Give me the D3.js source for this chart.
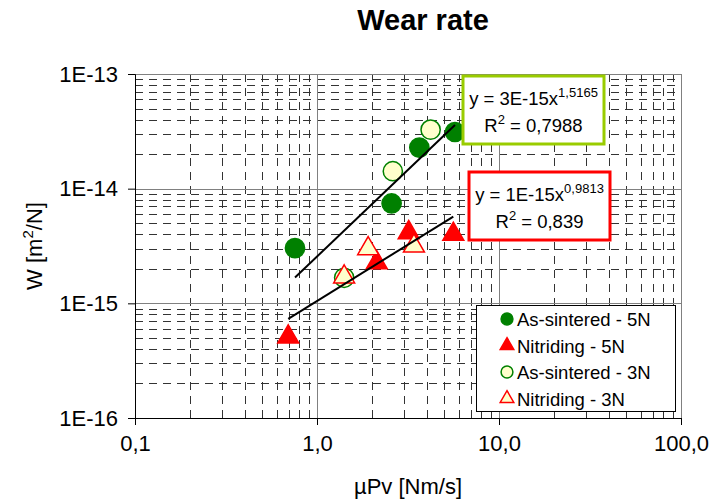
<!DOCTYPE html>
<html>
<head>
<meta charset="utf-8">
<script src="https://cdn.jsdelivr.net/npm/d3@7"></script>
<style>
  body { margin: 0; background: #fff; }
  svg text { font-family: "Liberation Sans", Arial, sans-serif; fill: #000; }
</style>
</head>
<body>
<div id="chart"></div>
<script>
// values
const asSintered5N_x = [0.757, 2.57, 3.65, 5.73];
const asSintered5N_y = [3.03e-15, 7.43e-15, 2.28e-14, 3.12e-14];
const nitriding5N_x = [0.695, 2.13, 3.19, 5.61];
const nitriding5N_y = [5.1e-16, 2.26e-15, 4.14e-15, 4.0e-15];
const asSintered3N_x = [1.41, 2.61, 4.21];
const asSintered3N_y = [1.67e-15, 1.42e-14, 3.27e-14];
const nitriding3N_x = [1.41, 1.91, 3.41];
const nitriding3N_y = [1.7e-15, 3.0e-15, 3.16e-15];

const xTickLabels = ['0,1', '1,0', '10,0', '100,0'];
const yTickLabels = ['1E-16', '1E-15', '1E-14', '1E-13'];
const legendLabels = ['As-sintered - 5N', 'Nitriding - 5N', 'As-sintered - 3N', 'Nitriding - 3N'];

const W = 711, H = 501;
const margin = { top: 74, right: 30, bottom: 83, left: 135 };
const width = W - margin.left - margin.right;
const height = H - margin.top - margin.bottom;

const svg = d3.select('#chart').append('svg')
    .attr('width', W)
    .attr('height', H);

const x = d3.scaleLog().domain([0.1, 100]).range([0, width]);
const y = d3.scaleLog().domain([1e-16, 1e-13]).range([height, 0]);

const g = svg.append('g')
    .attr('transform', `translate(${margin.left},${margin.top})`);

const isMajor = v => Math.abs(Math.log10(v) - Math.round(Math.log10(v))) < 1e-9;
const xMinor = x.ticks().filter(v => !isMajor(v));
const yMinor = y.ticks().filter(v => !isMajor(v));
const xMajor = x.ticks().filter(isMajor);
const yMajor = y.ticks().filter(isMajor);
const px = v => Math.round(v) + 0.5;

// minor gridlines (dashed)
g.append('g').selectAll('line').data(xMinor).join('line')
    .attr('x1', d => px(x(d))).attr('x2', d => px(x(d)))
    .attr('y1', 0).attr('y2', height)
    .attr('stroke', '#333').attr('stroke-dasharray', '8,6');
g.append('g').selectAll('line').data(yMinor).join('line')
    .attr('y1', d => px(y(d))).attr('y2', d => px(y(d)))
    .attr('x1', 0).attr('x2', width)
    .attr('stroke', '#333').attr('stroke-dasharray', '8,6');

// major gridlines
g.append('g').selectAll('line').data(xMajor).join('line')
    .attr('x1', d => px(x(d))).attr('x2', d => px(x(d)))
    .attr('y1', 0).attr('y2', height)
    .attr('stroke', '#808080');
g.append('g').selectAll('line').data(yMajor).join('line')
    .attr('y1', d => px(y(d))).attr('y2', d => px(y(d)))
    .attr('x1', 0).attr('x2', width)
    .attr('stroke', '#808080');

g.append('rect')
    .attr('x', 0.5).attr('y', 0.5)
    .attr('width', width).attr('height', height)
    .attr('fill', 'none').attr('stroke', '#808080');

// axes
const xAxis = g.append('g')
    .attr('transform', `translate(0,${height})`)
    .call(d3.axisBottom(x).tickValues(xMajor).tickSize(7).tickPadding(10)
        .tickFormat((d, i) => xTickLabels[i]));
const yAxis = g.append('g')
    .call(d3.axisLeft(y).tickValues(yMajor).tickSize(7).tickPadding(10)
        .tickFormat((d, i) => yTickLabels[i]));
[xAxis, yAxis].forEach(a => {
    a.select('.domain').attr('stroke', '#000');
    a.selectAll('.tick line').attr('stroke', '#000');
    a.selectAll('.tick text').attr('font-size', 22)
        .attr('font-family', '"Liberation Sans", Arial, sans-serif');
});

// power trendlines fitted in log space
function powerFit(xs, ys) {
    const lx = xs.map(Math.log10), ly = ys.map(Math.log10);
    const mx = d3.mean(lx), my = d3.mean(ly);
    const b = d3.sum(lx, (v, i) => (v - mx) * (ly[i] - my)) / d3.sum(lx, v => (v - mx) ** 2);
    const a = my - b * mx;
    const [x0, x1] = d3.extent(xs);
    return [x0, x1].map(v => [v, Math.pow(10, a + b * Math.log10(v))]);
}
const line = d3.line().x(d => x(d[0])).y(d => y(d[1]));
const fits = [
    powerFit(asSintered5N_x.concat(asSintered3N_x), asSintered5N_y.concat(asSintered3N_y)),
    powerFit(nitriding5N_x.concat(nitriding3N_x), nitriding5N_y.concat(nitriding3N_y))
];

// series
const series = [
    { xs: asSintered5N_x, ys: asSintered5N_y, shape: d3.symbolCircle, fill: '#008000', stroke: '#008000' },
    { xs: nitriding5N_x, ys: nitriding5N_y, shape: d3.symbolTriangle, fill: '#ff0000', stroke: '#ff0000' },
    { xs: asSintered3N_x, ys: asSintered3N_y, shape: d3.symbolCircle, fill: '#ffffcc', stroke: '#008000' },
    { xs: nitriding3N_x, ys: nitriding3N_y, shape: d3.symbolTriangle, fill: '#ffffcc', stroke: '#ff0000' }
];
const symSize = s => s === d3.symbolCircle ? 290 : 190;

[series[2], series[0], series[1], series[3]].forEach(s => {
    g.append('g').selectAll('path')
        .data(s.xs.map((v, i) => [v, s.ys[i]]))
        .join('path')
        .attr('transform', d => `translate(${x(d[0])},${y(d[1])})`)
        .attr('d', d3.symbol().type(s.shape).size(symSize(s.shape)))
        .attr('fill', s.fill)
        .attr('stroke', s.stroke)
        .attr('stroke-width', 1.5);
});

g.append('g').selectAll('path').data(fits).join('path')
    .attr('d', line)
    .attr('fill', 'none')
    .attr('stroke', '#000')
    .attr('stroke-width', 2);

// equation boxes
function eqBox(bx, by, bw, bh, color, coef, expo, r2) {
    const box = svg.append('g');
    box.append('rect')
        .attr('x', bx).attr('y', by).attr('width', bw).attr('height', bh)
        .attr('fill', '#fff').attr('stroke', color).attr('stroke-width', 3);
    const t1 = box.append('text')
        .attr('x', bx + bw / 2).attr('y', by + 29)
        .attr('text-anchor', 'middle').attr('font-size', 18.5);
    t1.append('tspan').text(`y = ${coef}x`);
    t1.append('tspan').attr('font-size', 13).attr('dy', -8).text(expo);
    const t2 = box.append('text')
        .attr('x', bx + bw / 2).attr('y', by + 56)
        .attr('text-anchor', 'middle').attr('font-size', 18.5);
    t2.append('tspan').text('R');
    t2.append('tspan').attr('font-size', 13).attr('dy', -8).text('2');
    t2.append('tspan').attr('dy', 8).text(` = ${r2}`);
}
eqBox(463, 76, 141, 68, '#99cc00', '3E-15', '1,5165', '0,7988');
eqBox(469, 172, 141, 68, '#ff0000', '1E-15', '0,9813', '0,839');

// legend
const lg = svg.append('g').attr('transform', 'translate(476,305)');
lg.append('rect')
    .attr('x', 0.5).attr('y', 0.5).attr('width', 199).attr('height', 106)
    .attr('fill', '#fff').attr('stroke', '#000');
const items = lg.selectAll('g.item').data(series).join('g')
    .attr('class', 'item')
    .attr('transform', (d, i) => `translate(0,${14 + i * 26.5})`);
items.append('path')
    .attr('transform', 'translate(31,0)')
    .attr('d', d => d3.symbol().type(d.shape).size(d.shape === d3.symbolCircle ? 110 : 80)())
    .attr('fill', d => d.fill)
    .attr('stroke', d => d.stroke)
    .attr('stroke-width', 1.5);
items.append('text')
    .attr('x', 41).attr('y', 7)
    .attr('font-size', 18.5)
    .text((d, i) => legendLabels[i]);

// titles
svg.append('text')
    .attr('x', 423).attr('y', 30)
    .attr('text-anchor', 'middle')
    .attr('font-size', 29).attr('font-weight', 'bold')
    .text('Wear rate');

svg.append('text')
    .attr('x', margin.left + width / 2).attr('y', 494)
    .attr('text-anchor', 'middle').attr('font-size', 22)
    .text('µPv [Nm/s]');

const yt = svg.append('text')
    .attr('transform', `translate(42,${margin.top + height / 2}) rotate(-90)`)
    .attr('text-anchor', 'middle').attr('font-size', 22);
yt.append('tspan').text('W [m');
yt.append('tspan').attr('font-size', 15).attr('dy', -9).text('2');
yt.append('tspan').attr('dy', 9).text('/N]');
</script>
</body>
</html>
